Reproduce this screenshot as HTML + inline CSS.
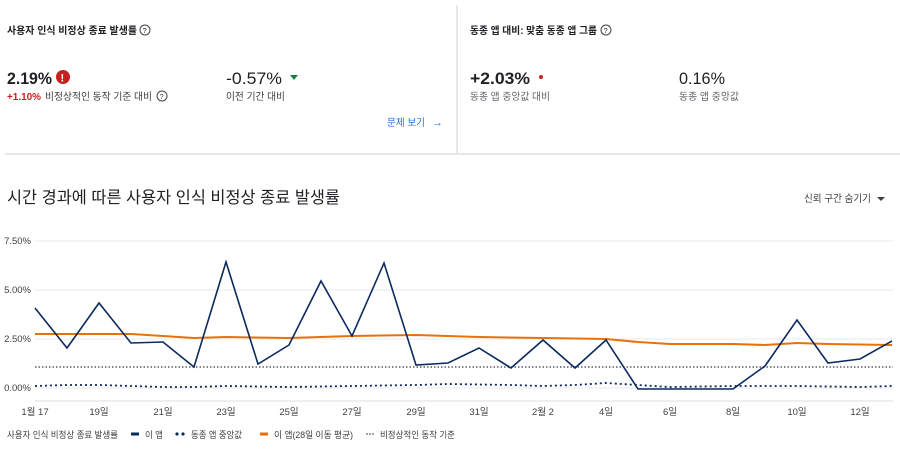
<!DOCTYPE html>
<html><head><meta charset="utf-8"><style>
body{margin:0;background:#fff;}
svg text{font-family:"Liberation Sans","Noto Sans CJK KR",sans-serif;}
</style></head><body>
<svg width="900" height="446" xmlns="http://www.w3.org/2000/svg">
<line x1="457" y1="5" x2="457" y2="153" stroke="#e0e0e0" stroke-width="1.5"/>
<line x1="5" y1="154" x2="900" y2="154" stroke="#e6e6e6" stroke-width="2"/>
<g fill="#202124">
<text x="7" y="34" font-weight="bold" font-size="10" textLength="130" lengthAdjust="spacingAndGlyphs">사용자 인식 비정상 종료 발생률</text>
<circle cx="145" cy="30" r="5" fill="none" stroke="#444" stroke-width="1"/><text x="142.5" y="33" font-size="7.5">?</text>
<text x="470" y="34" font-weight="bold" font-size="10" textLength="127" lengthAdjust="spacingAndGlyphs">동종 앱 대비: 맞춤 동종 앱 그룹</text>
<circle cx="606" cy="30" r="5" fill="none" stroke="#444" stroke-width="1"/><text x="603.5" y="33" font-size="7.5">?</text>
</g>
<text x="7" y="84" font-size="17" font-weight="bold" fill="#202124" textLength="45" lengthAdjust="spacingAndGlyphs">2.19%</text>
<circle cx="63" cy="77" r="7" fill="#c5221f"/><text x="60.5" y="81.5" font-size="11" font-weight="bold" fill="#fff">!</text>
<text x="7" y="100" font-size="10" font-weight="bold" fill="#c5221f" textLength="34" lengthAdjust="spacingAndGlyphs">+1.10%</text>
<text x="45" y="100" font-size="10" fill="#3c4043" textLength="107" lengthAdjust="spacingAndGlyphs">비정상적인 동작 기준 대비</text>
<circle cx="162" cy="96" r="5" fill="none" stroke="#444" stroke-width="1"/><text x="159.5" y="99" font-size="7.5" fill="#444">?</text>
<text x="226" y="84" font-size="17" fill="#202124" textLength="56" lengthAdjust="spacingAndGlyphs">-0.57%</text>
<polygon points="290,75 298,75 294,80" fill="#188038"/>
<text x="226" y="100" font-size="10" fill="#3c4043" textLength="59" lengthAdjust="spacingAndGlyphs">이전 기간 대비</text>
<text x="387" y="126" font-size="10" fill="#1a73e8" textLength="38" lengthAdjust="spacingAndGlyphs">문제 보기</text>
<text x="432" y="126" font-size="11" fill="#1a73e8">→</text>
<text x="470" y="84" font-size="17" font-weight="bold" fill="#202124" textLength="60" lengthAdjust="spacingAndGlyphs">+2.03%</text>
<circle cx="541" cy="77" r="2" fill="#c5221f"/>
<text x="470" y="100" font-size="10" fill="#5f6368" textLength="80" lengthAdjust="spacingAndGlyphs">동종 앱 중앙값 대비</text>
<text x="679" y="84" font-size="17" fill="#202124" textLength="46" lengthAdjust="spacingAndGlyphs">0.16%</text>
<text x="679" y="100" font-size="10" fill="#5f6368" textLength="60" lengthAdjust="spacingAndGlyphs">동종 앱 중앙값</text>
<text x="7" y="203" font-size="16.5" fill="#202124" textLength="333" lengthAdjust="spacingAndGlyphs">시간 경과에 따른 사용자 인식 비정상 종료 발생률</text>
<text x="804" y="202" font-size="10" fill="#3c4043" textLength="67" lengthAdjust="spacingAndGlyphs">신뢰 구간 숨기기</text>
<polygon points="877,197 885,197 881,201" fill="#3c4043"/>
<g stroke="#e8eaed" stroke-width="1">
<line x1="35" y1="241" x2="893" y2="241"/><line x1="35" y1="290" x2="893" y2="290"/><line x1="35" y1="339" x2="893" y2="339"/><line x1="35" y1="388" x2="893" y2="388"/>
</g>
<line x1="35" y1="401" x2="893" y2="401" stroke="#dadce0"/>
<g font-size="9.5" fill="#3c4043" text-anchor="end">
<text x="31" y="244">7.50%</text><text x="31" y="293">5.00%</text><text x="31" y="342">2.50%</text><text x="31" y="391">0.00%</text>
</g>
<g font-size="9.5" fill="#3c4043" text-anchor="middle">
<text x="35" y="415">1월 17</text><text x="99" y="415">19일</text><text x="163" y="415">21일</text><text x="226" y="415">23일</text><text x="289" y="415">25일</text><text x="352" y="415">27일</text><text x="416" y="415">29일</text><text x="479" y="415">31일</text><text x="543" y="415">2월 2</text><text x="606" y="415">4일</text><text x="670" y="415">6일</text><text x="733" y="415">8일</text><text x="797" y="415">10일</text><text x="860" y="415">12일</text>
</g>
<line x1="35" y1="367" x2="893" y2="367" stroke="#80868b" stroke-width="2" stroke-dasharray="1.5,2"/>
<polyline fill="none" stroke="#e8710a" stroke-width="2" points="35,334 131,334 163,336 194,338 226,337 289,338 352,336 416,335 479,337 543,338 606,339 638,342 670,344 733,344 765,345 797,343 828,344 892,345"/>
<polyline fill="none" stroke="#0b2a5e" stroke-width="1.8" stroke-dasharray="2,3" points="35,386 67,385 99,385 131,386 163,387 194,387 226,386 289,387 352,386 416,385 448,384 511,385 543,386 575,385 606,383 638,385 670,387 733,386 797,386 860,387 892,386"/>
<polyline fill="none" stroke="#0b2a5e" stroke-width="1.6" points="35,308 67,348 99,303 131,343 163,342 194,367 226,262 258,364 289,345 321,281 352,336 384,263 416,365 448,363 479,348 511,368 543,340 575,368 606,340 638,389 670,389 701,389 733,389 765,366 797,320 828,363 860,359 892,341"/>
<g font-size="9" fill="#3c4043">
<text x="7" y="438" textLength="111" lengthAdjust="spacingAndGlyphs">사용자 인식 비정상 종료 발생률</text>
<line x1="131" y1="434" x2="139" y2="434" stroke="#0b2a5e" stroke-width="3"/><text x="145" y="438" textLength="18" lengthAdjust="spacingAndGlyphs">이 앱</text>
<circle cx="177" cy="434" r="1.6" fill="#0b2a5e"/><circle cx="183" cy="434" r="1.6" fill="#0b2a5e"/><text x="191" y="438" textLength="51" lengthAdjust="spacingAndGlyphs">동종 앱 중앙값</text>
<line x1="260" y1="434" x2="268" y2="434" stroke="#e8710a" stroke-width="3"/><text x="274" y="438" textLength="79" lengthAdjust="spacingAndGlyphs">이 앱(28일 이동 평균)</text>
<circle cx="367" cy="434" r="1" fill="#80868b"/><circle cx="370" cy="434" r="1" fill="#80868b"/><circle cx="373" cy="434" r="1" fill="#80868b"/><text x="380" y="438" textLength="75" lengthAdjust="spacingAndGlyphs">비정상적인 동작 기준</text>
</g>
</svg>
</body></html>
